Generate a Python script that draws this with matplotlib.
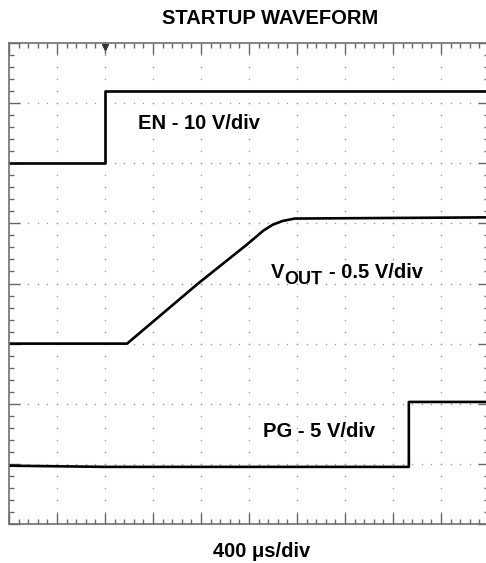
import numpy as np
import matplotlib
matplotlib.use("Agg")
import matplotlib.pyplot as plt
from matplotlib.ticker import MultipleLocator

plt.rcParams['font.family'] = ['Liberation Sans', 'DejaVu Sans']

# screen: 10 horizontal divisions, 8 vertical divisions
n_xdiv = 10
n_ydiv = 8
trigger_t = 2.0

# traces, in divisions
en_t = [0.0, 2.0, 2.0, 10.0]
en_v = [6.0, 6.0, 7.2, 7.2]

vout_t = [0.0, 2.46, 3.94, 4.96, 5.30, 5.50, 5.70, 5.95, 10.0]
vout_v = [3.0, 3.0, 4.0, 4.65, 4.88, 4.98, 5.04, 5.08, 5.1]

pg_t = [0.0, 2.0, 8.33, 8.33, 10.0]
pg_v = [0.97, 0.95, 0.95, 2.03, 2.03]

W, H = 486, 563
fig = plt.figure(figsize=(W / 100, H / 100), dpi=100)
ax = fig.add_axes([9 / W, 39 / H, 480 / W, 481 / H])

# dotted graticule
for gx in range(1, n_xdiv):
    ys = np.arange(0, n_ydiv, 0.2)
    ax.scatter(np.full_like(ys, gx), ys, s=1.2, color='#9a9a9a', linewidths=0)
for gy in range(1, n_ydiv):
    xs = np.arange(0, n_xdiv, 0.2)
    ax.scatter(xs, np.full_like(xs, gy), s=1.2, color='#9a9a9a', linewidths=0)

ax.plot(en_t, en_v, color='black', lw=1.9)
ax.plot(vout_t, vout_v, color='black', lw=1.9)
ax.plot(pg_t, pg_v, color='black', lw=1.9)

# trigger marker
ax.plot([trigger_t], [7.93], marker='v', color='#333333', markersize=5, clip_on=False)

ax.set_xlim(0, n_xdiv)
ax.set_ylim(0, n_ydiv)
ax.xaxis.set_major_locator(MultipleLocator(1))
ax.yaxis.set_major_locator(MultipleLocator(1))
ax.xaxis.set_minor_locator(MultipleLocator(0.2))
ax.yaxis.set_minor_locator(MultipleLocator(0.2))
ax.tick_params(which='both', direction='in', top=True, bottom=True, left=True, right=True,
               labelbottom=False, labelleft=False, color='#666666', width=1)
ax.tick_params(which='major', length=8)
ax.tick_params(which='minor', length=3.5)
for sp in ax.spines.values():
    sp.set_color('#707070')
    sp.set_linewidth(1.2)

def px(x, y):
    return x / W, 1 - y / H

fs = 14.5
fig.text(*px(162, 24), 'STARTUP WAVEFORM', fontsize=fs, fontweight='bold', ha='left', va='baseline')
fig.text(*px(213, 557), '400 \u03bcs/div', fontsize=fs, fontweight='bold', ha='left', va='baseline')
fig.text(*px(138, 129), 'EN - 10 V/div', fontsize=fs, fontweight='bold', ha='left', va='baseline')
fig.text(*px(263, 437), 'PG - 5 V/div', fontsize=fs, fontweight='bold', ha='left', va='baseline')

# V_OUT label built from three pieces placed one after another
renderer = fig.canvas.get_renderer()
t_v = fig.text(*px(271, 278), 'V', fontsize=fs, fontweight='bold', ha='left', va='baseline')
x_next = t_v.get_window_extent(renderer).x1
t_sub = fig.text(x_next / W, 1 - 284 / H, 'OUT', fontsize=13, fontweight='bold', ha='left', va='baseline')
x_next = t_sub.get_window_extent(renderer).x1 + 6
fig.text(x_next / W, 1 - 278 / H, '- 0.5 V/div', fontsize=fs, fontweight='bold', ha='left', va='baseline')

fig.savefig('out.png', dpi=100)
